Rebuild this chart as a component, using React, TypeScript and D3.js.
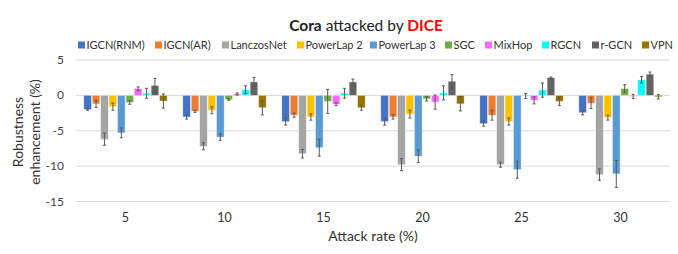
import React from "react";
import * as d3 from "d3";

const WIDTH = 678;
const HEIGHT = 254;

const categories = ["5", "10", "15", "20", "25", "30"];
const seriesNames = [
  "IGCN(RNM)", "IGCN(AR)", "LanczosNet", "PowerLap 2", "PowerLap 3",
  "SGC", "MixHop", "RGCN", "r-GCN", "VPN",
];
const seriesColors = [
  "#4472C4", "#ED7D31", "#A5A5A5", "#FFC000", "#5B9BD5",
  "#70AD47", "#FF66FF", "#00FFFF", "#636363", "#997300",
];
// values[series][category]
const values = [
  [-2.0, -3.05, -3.7, -3.7, -4.0, -2.45],
  [-1.2, -2.25, -2.8, -3.05, -2.8, -1.1],
  [-6.2, -7.2, -8.25, -9.8, -9.8, -11.2],
  [-1.6, -2.1, -3.05, -2.65, -3.7, -3.15],
  [-5.3, -5.9, -7.4, -8.6, -10.5, -11.1],
  [-1.0, -0.6, -0.85, -0.5, -0.1, 0.95],
  [0.95, 0.2, -1.25, -0.95, -0.7, -0.15],
  [0.3, 0.8, 0.3, 0.35, 0.75, 2.2],
  [1.4, 1.9, 1.9, 2.0, 2.5, 3.0],
  [-0.8, -1.75, -1.75, -1.2, -0.85, -0.2],
];
const errors = [
  [0.1, 0.3, 0.5, 0.5, 0.35, 0.3],
  [0.5, 0.15, 0.3, 0.3, 0.7, 0.75],
  [0.85, 0.5, 0.6, 0.85, 0.35, 0.8],
  [0.5, 0.5, 0.45, 0.55, 0.5, 0.35],
  [0.7, 0.45, 1.2, 0.9, 1.2, 1.9],
  [0.25, 0.1, 1.7, 0.3, 0.35, 0.55],
  [0.25, 0.15, 0.2, 1.0, 0.5, 0.3],
  [0.7, 0.55, 0.7, 1.0, 1.0, 0.45],
  [1.0, 0.65, 0.4, 0.95, 0.1, 0.3],
  [1.0, 1.0, 0.35, 1.0, 0.6, 0.3],
];
const yTicks = [5, 0, -5, -10, -15];

const FONT = "Lato, 'Open Sans', sans-serif";

export default function App() {
  const x0 = d3.scaleBand().domain(categories).range([76, 670]).paddingInner(0.15).paddingOuter(0.075);
  const x1 = d3.scaleBand().domain(seriesNames).range([0, x0.bandwidth()]);
  const y = d3.scaleLinear().domain([-15, 5]).range([201.5, 60]);

  // legend: swatch left edges spread across the top, matching the original layout
  const legendX = [78, 155, 222, 297, 370, 445, 485, 542, 592, 642];
  const swatch = 7;

  return (
    <svg width={WIDTH} height={HEIGHT} style={{ position: "absolute", left: 0, top: 0, background: "#fff" }} fontFamily={FONT}>
      <text x={366} y={31} textAnchor="middle" fontSize={15.5} fill="#222">
        <tspan fontWeight="bold">Cora</tspan>
        <tspan> attacked by </tspan>
        <tspan fontWeight="bold" fill="#FF0000">DICE</tspan>
      </text>

      <g>
        {seriesNames.map((n, i) => (
          <g key={n} transform={`translate(${legendX[i]},45)`}>
            <rect x={0} y={-swatch / 2} width={swatch} height={swatch} fill={seriesColors[i]} />
            <text x={swatch + 1.5} y={4} fontSize={11} fill="#333">{n}</text>
          </g>
        ))}
      </g>

      <g>
        {yTicks.map((t) => (
          <g key={t}>
            <line x1={76} x2={670} y1={y(t)} y2={y(t)} stroke="#D9D9D9" strokeWidth={1} />
            <text x={64} y={y(t) + 4} textAnchor="end" fontSize={12} fill="#444">{t}</text>
          </g>
        ))}
      </g>

      <g>
        {categories.map((c, ci) => (
          <g key={c} transform={`translate(${x0(c)},0)`}>
            {seriesNames.map((s, si) => {
              const v = values[si][ci];
              const e = errors[si][ci];
              const bx = x1(s) as number;
              const bw = x1.bandwidth();
              const cx = bx + bw / 2;
              return (
                <g key={s}>
                  <rect
                    x={bx + 0.4}
                    y={Math.min(y(v), y(0))}
                    width={bw - 0.8}
                    height={Math.abs(y(v) - y(0))}
                    fill={seriesColors[si]}
                    stroke="#fff"
                    strokeOpacity={0.6}
                    strokeWidth={0.6}
                  />
                  <line x1={cx} x2={cx} y1={y(v - e)} y2={y(v + e)} stroke="#595959" strokeWidth={1} />
                  <line x1={cx - 1.5} x2={cx + 1.5} y1={y(v - e)} y2={y(v - e)} stroke="#595959" strokeWidth={1} />
                  <line x1={cx - 1.5} x2={cx + 1.5} y1={y(v + e)} y2={y(v + e)} stroke="#595959" strokeWidth={1} />
                </g>
              );
            })}
            <text x={x0.bandwidth() / 2} y={222} textAnchor="middle" fontSize={12.5} fill="#333">{c}</text>
          </g>
        ))}
      </g>

      <text x={373} y={241} textAnchor="middle" fontSize={14} fill="#333">Attack rate (%)</text>
      <text transform="translate(18,132) rotate(-90)" textAnchor="middle" fontSize={14} fill="#333" dy="0.35em">Robustness</text>
      <text transform="translate(35,132) rotate(-90)" textAnchor="middle" fontSize={14} fill="#333" dy="0.35em">enhancement (%)</text>
    </svg>
  );
}
